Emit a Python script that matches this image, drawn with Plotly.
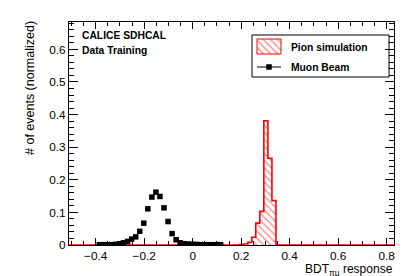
import plotly.graph_objects as go

# ---------------- data ----------------
muon_x = [-0.385, -0.3683, -0.3517, -0.335, -0.3183, -0.3017, -0.285, -0.2683,
          -0.2517, -0.235, -0.2183, -0.2017, -0.185, -0.1683, -0.1517, -0.135,
          -0.1183, -0.1017, -0.085, -0.0683, -0.0517, -0.035, -0.0183, -0.0017,
          0.015, 0.0317, 0.0483, 0.065, 0.0817, 0.0983, 0.115]
muon_y = [0.001, 0.001, 0.001, 0.001, 0.002, 0.004, 0.007, 0.011,
          0.018, 0.025, 0.042, 0.067, 0.111, 0.147, 0.162, 0.149,
          0.114, 0.072, 0.035, 0.016, 0.007, 0.004, 0.003, 0.002,
          0.002, 0.001, 0.001, 0.001, 0.001, 0.001, 0.001]

pion_edges = [0.1933, 0.21, 0.2267, 0.2433, 0.26, 0.2767, 0.2933, 0.31, 0.3267, 0.3433]
pion_y = [0.001, 0.003, 0.008, 0.024, 0.067, 0.103, 0.381, 0.266, 0.136]

x_range = [-0.51, 0.83]
y_range = [0, 0.684]

W, H = 407, 276
L, R, T, B = 61, 386, 14, 237  # plot frame in screen pixels

def px(xs):
    return (xs - L) / (R - L)

def py(ys):
    return (B - ys) / (B - T)

FONT = "Liberation Sans, Arial, Helvetica, sans-serif"
RED = "#ff0000"

# step outline for pion histogram (with zero line over full range)
sx = [x_range[0], pion_edges[0]] + pion_edges[:-1] + [pion_edges[-1], x_range[1]]
sy = [0, 0] + pion_y + [0, 0]

fig = go.Figure()
fig.add_trace(go.Scatter(
    x=sx, y=sy, mode="lines", line=dict(color=RED, width=1.6, shape="hv"),
    fill="tozeroy", fillcolor="rgba(0,0,0,0)",
    fillpattern=dict(shape="\\", fgcolor=RED, bgcolor="white", size=5, solidity=0.25),
    showlegend=False, hoverinfo="skip"))
fig.add_trace(go.Scatter(
    x=muon_x, y=muon_y, mode="markers",
    marker=dict(symbol="square", size=5.5, color="black"),
    showlegend=False))

# legend drawn on an overlay pixel axis
lx = dict(x0=249, x1=273, y0=31, y1=46)
fig.add_trace(go.Scatter(
    x=[lx["x0"], lx["x1"], lx["x1"], lx["x0"], lx["x0"]],
    y=[H - lx["y0"], H - lx["y0"], H - lx["y1"], H - lx["y1"], H - lx["y0"]],
    xaxis="x2", yaxis="y2", mode="lines", fill="toself",
    line=dict(color=RED, width=1), fillcolor="rgba(0,0,0,0)",
    fillpattern=dict(shape="\\", fgcolor=RED, bgcolor="white", size=5, solidity=0.25),
    showlegend=False, hoverinfo="skip"))
fig.add_trace(go.Scatter(
    x=[249, 273], y=[H - 59, H - 59], xaxis="x2", yaxis="y2", mode="lines",
    line=dict(color="black", width=1), showlegend=False, hoverinfo="skip"))
fig.add_trace(go.Scatter(
    x=[261], y=[H - 59], xaxis="x2", yaxis="y2", mode="markers",
    marker=dict(symbol="square", size=5.5, color="black"), showlegend=False, hoverinfo="skip"))

fig.add_shape(type="rect", xref="x2", yref="y2", x0=244, x1=381, y0=H - 27, y1=H - 69,
              line=dict(color="black", width=1), fillcolor="rgba(0,0,0,0)")

ann = []
ann.append(dict(text="<b>Pion simulation</b>", x=px(281), y=py(39), xanchor="left", yanchor="middle"))
ann.append(dict(text="<b>Muon Beam</b>", x=px(281), y=py(59), xanchor="left", yanchor="middle"))
ann.append(dict(text="<b>CALICE SDHCAL</b>", x=px(72), y=py(28), xanchor="left", yanchor="middle"))
ann.append(dict(text="<b>Data Training</b>", x=px(72), y=py(42), xanchor="left", yanchor="middle"))
for a in ann:
    a.update(xref="paper", yref="paper", showarrow=False, font=dict(family=FONT, size=10.3, color="black"))
    fig.add_annotation(**a)

fig.add_annotation(text="# of events (normalized)", x=px(22), y=py(11), xref="paper", yref="paper",
                   textangle=-90, xanchor="center", yanchor="top", showarrow=False,
                   font=dict(family=FONT, size=12.5, color="black"))
fig.add_annotation(text="BDT<sub>πμ</sub> response", x=px(387), y=py(252), xref="paper", yref="paper",
                   xanchor="right", yanchor="top", showarrow=False,
                   font=dict(family=FONT, size=12, color="black"))

axis_common = dict(showline=True, linecolor="black", linewidth=1, mirror="allticks",
                   ticks="inside", tickcolor="black", tickwidth=1, showgrid=False, zeroline=False,
                   tickfont=dict(family=FONT, size=11.8, color="black"))
fig.update_layout(
    width=W, height=H, margin=dict(l=L, r=W - R, t=T, b=H - B),
    paper_bgcolor="white", plot_bgcolor="white", showlegend=False,
    xaxis=dict(range=x_range, dtick=0.2, tick0=0, ticklen=7,
               minor=dict(ticks="inside", dtick=0.05, tick0=0, ticklen=4, tickcolor="black"),
               **axis_common),
    yaxis=dict(range=y_range, dtick=0.1, tick0=0, ticklen=9,
               minor=dict(ticks="inside", dtick=0.02, tick0=0, ticklen=5, tickcolor="black"),
               **axis_common),
    xaxis2=dict(range=[L, R], overlaying="x", visible=False, fixedrange=True),
    yaxis2=dict(range=[H - B, H - T], overlaying="y", visible=False, fixedrange=True),
)

fig.write_html("out.html")
